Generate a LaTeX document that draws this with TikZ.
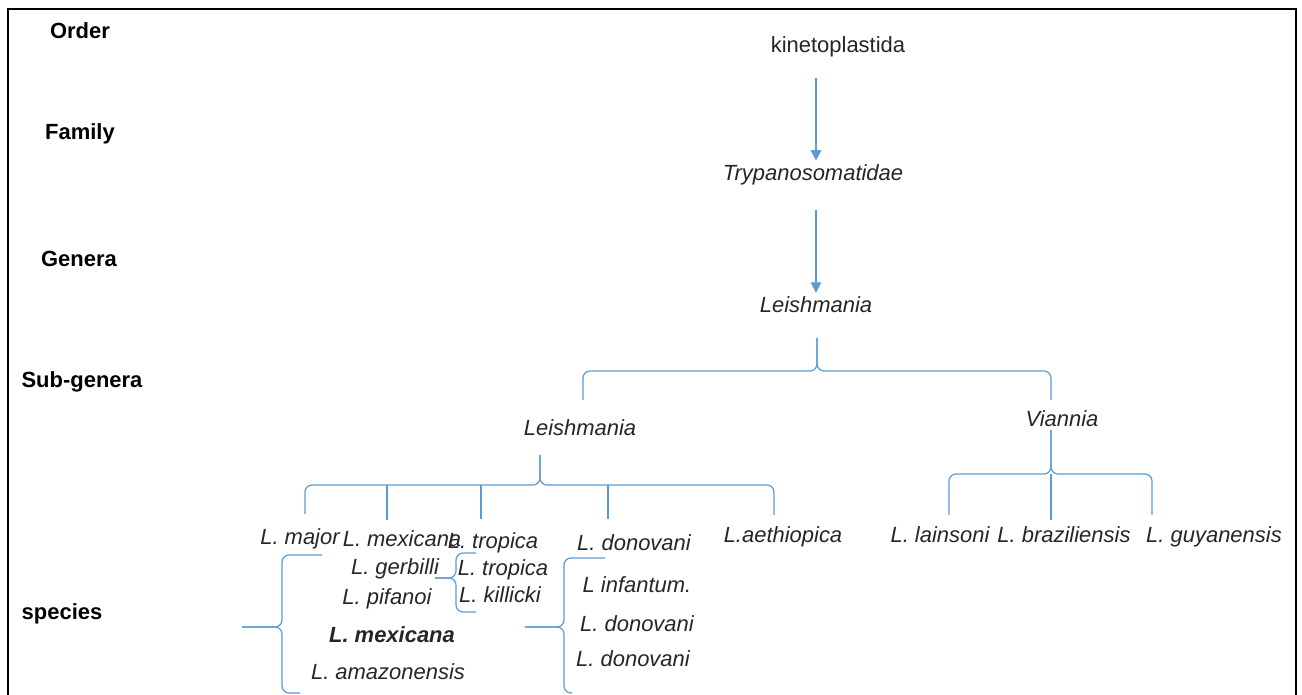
\documentclass[tikz,border=0pt]{standalone}
\usepackage{fontspec}
\setmainfont{Liberation Sans}
\usepackage{tikz}
\usetikzlibrary{arrows.meta}
\definecolor{msBlue}{RGB}{91,155,213}
\definecolor{msText}{RGB}{38,38,38}

\begin{document}
\begin{tikzpicture}[x=0.02cm, y=-0.02cm]%
  \tikzset{normal arrow/.style={draw,-{Triangle[width=6pt,length=6pt]},line width=0.7pt,msBlue},
    brace/.style={draw,line width=0.7pt,msBlue,rounded corners=4pt},
    drop/.style={draw,line width=0.7pt,msBlue},
    rank/.style={font=\fontsize{12.5}{15}\selectfont\bfseries, text=black},
    taxon/.style={font=\fontsize{12.5}{15}\selectfont\itshape, yshift=-1pt}}
  \tikzstyle{every node}=[draw=none, text=msText, inner sep=2pt]
  \useasboundingbox (0,0) rectangle (1302,695);

  % frame, open at the bottom
  \draw[line width=1.4pt] (8,695) -- (8,9) -- (1296,9) -- (1296,695);

  % ranks
  \node[rank] at (80,31) (rOrder) {Order};
  \node[rank] at (80,134) (rFamily) {Family};
  \node[rank] at (79,259) (rGenera) {Genera};
  \node[rank] at (82,382) (rSub) {Sub-genera};
  \node[rank] at (62,614) (rSpecies) {species};

  % order, family, genus
  \node[taxon, font=\fontsize{12.5}{15}\selectfont] at (838,45) (kin) {kinetoplastida};
  \node[taxon] at (813,173) (tryp) {Trypanosomatidae};
  \node[taxon] at (816,303) (gen) {Leishmania};

  \draw[normal arrow, shorten <=10pt] (kin.south -| gen) -- (tryp.north -| gen);
  \draw[normal arrow, shorten <=12pt] (tryp.south -| gen) -- (gen.north);

  % sub-genera
  \node[taxon] at (580,426) (sgL) {Leishmania};
  \node[taxon] at (1062,417) (sgV) {Viannia};
  \draw[brace] (583,400) |- (817,371) -- (817,338);
  \draw[brace] (1051,400) |- (817,371) -- (817,338);

  % species of Leishmania
  \node[taxon] at (300,537) (major) {L. major};
  \node[taxon] at (402,537) (mexA) {L. mexicana};
  \node[taxon] at (493,541) (tropA) {L. tropica};
  \node[taxon] at (634,541) (donA) {L. donovani};
  \node[taxon] at (783,535) (aeth) {L.aethiopica};
  \draw[brace] (305,514) |- (540,485) -- (540,455);
  \draw[brace] (774,515) |- (540,485) -- (540,455);
  \draw[drop] (387,485) -- (387,520);
  \draw[drop] (481,485) -- (481,519);
  \draw[drop] (608,485) -- (608,519);

  % species of Viannia
  \node[taxon] at (940,533) (lain) {L. lainsoni};
  \node[taxon] at (1064,533) (braz) {L. braziliensis};
  \node[taxon] at (1214,535) (guy) {L. guyanensis};
  \draw[brace] (949,515) |- (1051,474) -- (1051,430);
  \draw[brace] (1152,515) |- (1051,474) -- (1051,430);
  \draw[drop] (1051,474) -- (1051,520);

  % mexicana complex
  \node[taxon] at (395,567) (gerb) {L. gerbilli};
  \node[taxon] at (387,597) (pif) {L. pifanoi};
  \node[taxon, font=\fontsize{12.5}{15}\selectfont\bfseries\itshape] at (392,633) (mexB) {L. mexicana};
  \node[taxon] at (388,670) (amaz) {L. amazonensis};
  \draw[brace] (322,555) -| (282,627) -- (242,627);
  \draw[brace] (300,693) -| (282,627) -- (242,627);

  % tropica complex
  \node[taxon] at (503,568) (tropB) {L. tropica};
  \node[taxon] at (500,593) (kill) {L. killicki};
  \draw[brace] (476,553) -| (456,578) -- (435,578);
  \draw[brace] (476,612) -| (456,578) -- (435,578);

  % donovani complex
  \node[taxon] at (637,583) (inf) {L infantum.};
  \node[taxon] at (637,622) (donB) {L. donovani};
  \node[taxon] at (633,657) (donC) {L. donovani};
  \draw[brace] (605,558) -| (564,627) -- (525,627);
  \draw[brace] (572,693) -| (564,627) -- (525,627);
\end{tikzpicture}
\end{document}
